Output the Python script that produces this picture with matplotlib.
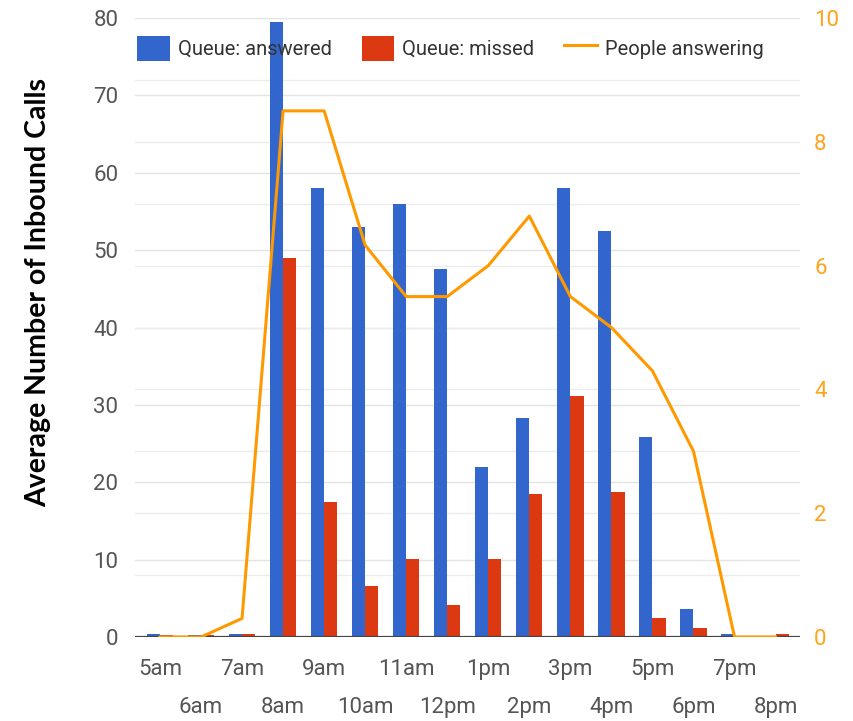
import numpy as np
import matplotlib.pyplot as plt

# hourly call centre stats
hours = ['5am', '6am', '7am', '8am', '9am', '10am', '11am', '12pm',
         '1pm', '2pm', '3pm', '4pm', '5pm', '6pm', '7pm', '8pm']
answered = [0.4, 0.2, 0.4, 79.5, 58.0, 53.0, 56.0, 47.6,
            22.0, 28.3, 58.0, 52.5, 25.8, 3.6, 0.4, 0.1]
missed = [0.2, 0.3, 0.4, 49.0, 17.4, 6.6, 10.1, 4.2,
          10.1, 18.5, 31.2, 18.8, 2.5, 1.2, 0.1, 0.4]
people = [0.0, 0.0, 0.3, 8.5, 8.5, 6.33, 5.5, 5.5,
          6.0, 6.8, 5.5, 5.0, 4.3, 3.0, 0.0, 0.0]

plt.rcParams['font.family'] = ['Roboto', 'DejaVu Sans']

BLUE = '#3366cc'
RED = '#dc3912'
ORANGE = '#ff9900'
GREY = '#555555'

fig = plt.figure(figsize=(8.54, 7.21), dpi=100)
ax = fig.add_axes([0.158, 0.1165, 0.779, 0.8585])
x = np.arange(len(hours))
w = 0.32

# light grid lines for both scales (right axis value v sits at 8*v on the left)
for g in range(10, 81, 10):
    ax.axhline(g, color='#e3e3e3', lw=1, zorder=0)
for g in range(1, 10):
    ax.axhline(g * 8, color='#ececec', lw=1, zorder=0)

b1 = ax.bar(x - w / 2, answered, w, color=BLUE, label='Queue: answered', zorder=2)
b2 = ax.bar(x + w / 2, missed, w, color=RED, label='Queue: missed', zorder=2)
ax.axhline(0, color='#444444', lw=1.6, zorder=3)

ax.set_xlim(-0.61, 15.6)
ax.set_ylim(0, 80)
ax.set_yticks(range(0, 81, 10))
for s in ax.spines.values():
    s.set_visible(False)
ax.tick_params(axis='y', length=0, labelsize=16, labelcolor=GREY, pad=12)

# alternating two-row hour labels
ax.set_xticks(x[0::2], hours[0::2])
ax.set_xticks(x[1::2], hours[1::2], minor=True)
ax.tick_params(axis='x', which='major', length=0, labelsize=16, labelcolor=GREY, pad=16)
ax.tick_params(axis='x', which='minor', length=0, labelsize=16, labelcolor=GREY, pad=43)

ax2 = ax.twinx()
l1, = ax2.plot(x, people, color=ORANGE, lw=2.2, label='People answering', zorder=4)
ax2.set_ylim(0, 10)
ax2.set_yticks(range(0, 11, 2))
for s in ax2.spines.values():
    s.set_visible(False)
ax2.tick_params(axis='y', length=0, labelsize=16, labelcolor='#ffa31a', pad=10)

ax2.legend([b1, b2, l1], ['Queue: answered', 'Queue: missed', 'People answering'],
           loc='center left', bbox_to_anchor=(0.161, 0.933), bbox_transform=fig.transFigure,
           ncol=3, frameon=False, fontsize=14.5, labelcolor='#333333',
           handlelength=1.6, handleheight=1.5, handletextpad=0.4,
           columnspacing=1.5, borderpad=0, borderaxespad=0)

fig.text(0.045, 0.595, 'Average Number of Inbound Calls', rotation=90,
         ha='center', va='center', fontsize=20.5, fontweight='bold',
         family=['Lato', 'DejaVu Sans'], color='black')

fig.savefig('out.png', dpi=100)
